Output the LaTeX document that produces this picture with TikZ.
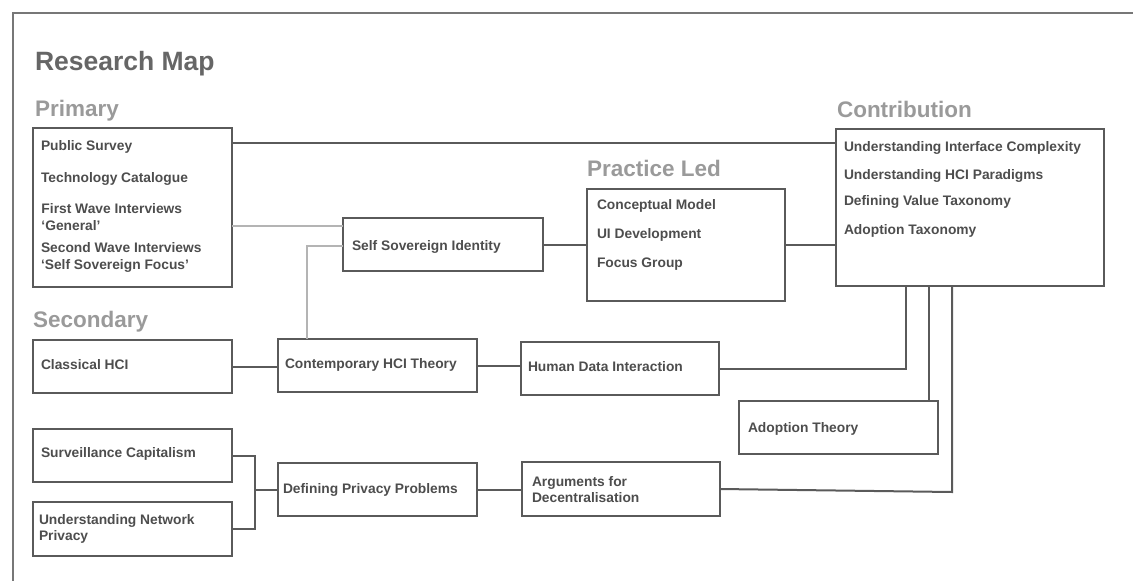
\documentclass[tikz,border=0pt]{standalone}
\usepackage{fontspec}
\setmainfont{Liberation Sans}
\usetikzlibrary{calc}
\definecolor{boxline}{HTML}{5A5A5A}
\definecolor{boxtext}{HTML}{4D4D4D}
\definecolor{titlegray}{HTML}{666666}
\definecolor{headgray}{HTML}{9A9A9A}
\definecolor{softline}{HTML}{B4B4B4}
\definecolor{framegray}{HTML}{777777}
\tikzset{
  box/.style={draw=boxline, line width=2pt, rectangle, inner sep=0pt, outer sep=0pt, anchor=north west},
  txt/.style={text=boxtext, inner sep=0pt, outer sep=0pt, anchor=base west, align=left,
    font=\fontsize{13.8}{16.5}\selectfont\bfseries},
  head/.style={text=headgray, inner sep=0pt, outer sep=0pt, anchor=base west,
    font=\fontsize{22.5}{26}\selectfont\bfseries},
  maintitle/.style={text=titlegray, inner sep=0pt, outer sep=0pt, anchor=base west,
    font=\fontsize{26.5}{30}\selectfont\bfseries},
  conn/.style={draw=boxline, line width=2pt},
  softconn/.style={draw=softline, line width=2pt},
  framestyle/.style={draw=framegray, line width=2pt}
}
\begin{document}
\begin{tikzpicture}[x=1pt, y=-1pt]
\useasboundingbox (0,0) rectangle (1133,581);

% outer frame (top and left edges)
\draw[framestyle] (13,581) -- (13,13) -- (1133,13);

% headings
\node[maintitle] (tmap) at (35,70.7) {Research Map};
\node[head] (hprim) at (35,116.7) {Primary};
\node[head] (hsec) at (33,327.7) {Secondary};
\node[head] (hprac) at (587,176.7) {Practice Led};
\node[head] (hcon) at (837,117.7) {Contribution};

% boxes
\node[box, minimum width=199pt, minimum height=159pt] (prim) at (33,128) {};
\node[box, minimum width=200pt, minimum height=53pt] (ssi) at (343,218) {};
\node[box, minimum width=198pt, minimum height=112pt] (prac) at (587,189) {};
\node[box, minimum width=268pt, minimum height=157pt] (contrib) at (836,129) {};
\node[box, minimum width=199pt, minimum height=53pt] (classic) at (33,340) {};
\node[box, minimum width=199pt, minimum height=53pt] (contemp) at (278,339) {};
\node[box, minimum width=198pt, minimum height=53pt] (hdi) at (521,342) {};
\node[box, minimum width=199pt, minimum height=53pt] (adopt) at (739,401) {};
\node[box, minimum width=199pt, minimum height=53pt] (surv) at (33,429) {};
\node[box, minimum width=199pt, minimum height=54pt] (net) at (33,502) {};
\node[box, minimum width=199pt, minimum height=53pt] (defpriv) at (278,463) {};
\node[box, minimum width=198pt, minimum height=54pt] (args) at (522,462) {};

% box texts (two-line texts are placed by the baseline of their last line)
\node[txt] (p1) at (41,150.5) {Public Survey};
\node[txt] (p2) at (41,182.5) {Technology Catalogue};
\node[txt] (p3) at (41.5,230) {First Wave Interviews\\‘General’};
\node[txt] (p4) at (41,269.3) {Second Wave Interviews\\‘Self Sovereign Focus’};
\node[txt] (s1) at (352,250) {Self Sovereign Identity};
\node[txt] (q1) at (597,209.3) {Conceptual Model};
\node[txt] (q2) at (597,238.3) {UI Development};
\node[txt] (q3) at (597,267.7) {Focus Group};
\node[txt] (c1) at (844,151.7) {Understanding Interface Complexity};
\node[txt] (c2) at (844,179) {Understanding HCI Paradigms};
\node[txt] (c3) at (844,205.7) {Defining Value Taxonomy};
\node[txt] (c4) at (844,234) {Adoption Taxonomy};
\node[txt] (k1) at (41,369) {Classical HCI};
\node[txt] (k2) at (285,368.3) {Contemporary HCI Theory};
\node[txt] (k3) at (528,371) {Human Data Interaction};
\node[txt] (k4) at (748,432.3) {Adoption Theory};
\node[txt] (v1) at (41,457.3) {Surveillance Capitalism};
\node[txt] (v2) at (39,540.7) {Understanding Network\\Privacy};
\node[txt] (v3) at (283,493.3) {Defining Privacy Problems};
\node[txt] (v4) at (532,502.7) {Arguments for\\Decentralisation};

% connectors
\draw[conn] ([yshift=-15pt]prim.north east) -- ([yshift=-14pt]contrib.north west);
\draw[softconn] ([yshift=-98pt]prim.north east) -- ([yshift=-8pt]ssi.north west);
\draw[softconn] ([yshift=-28pt]ssi.north west) -| ([xshift=29pt]contemp.north west);
\draw[conn] (ssi.east) -- (prac.west |- ssi.east);
\draw[conn] (prac.east) -- (contrib.west |- prac.east);
\draw[conn] (classic.east) -- (contemp.west |- classic.east);
\draw[conn] (contemp.east) -- (hdi.west |- contemp.east);
\draw[conn] (hdi.east) -| ([xshift=70pt]contrib.south west);
\draw[conn] ([xshift=190pt]adopt.north west) -- ([xshift=190pt]adopt.north west |- contrib.south);
\coordinate (argbend) at (952,492);
\draw[conn] (args.east) -- (argbend) -- (argbend |- contrib.south);
\draw[conn] (surv.east) -| ([xshift=-23pt]defpriv.west) |- (net.east);
\draw[conn] ([xshift=-23pt]defpriv.west) -- (defpriv.west);
\draw[conn] (defpriv.east) -- (args.west |- defpriv.east);
\end{tikzpicture}
\end{document}
